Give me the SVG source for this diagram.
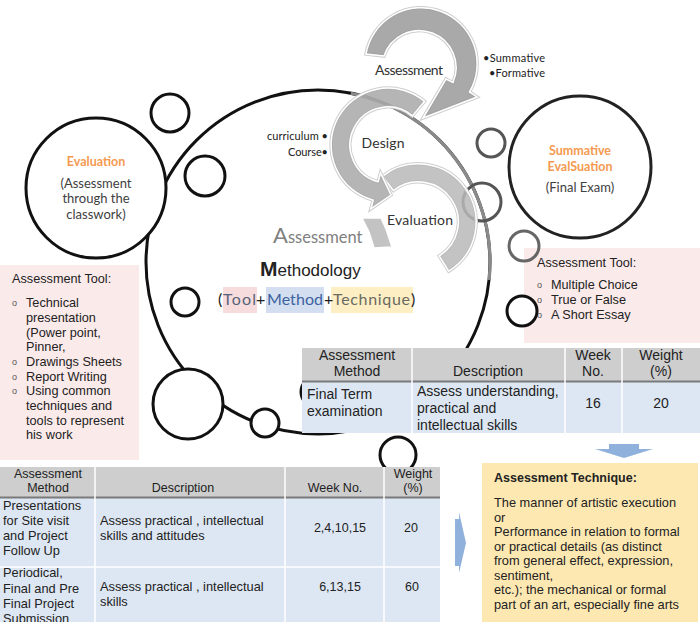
<svg xmlns="http://www.w3.org/2000/svg" width="700" height="627" viewBox="0 0 700 627">
<defs>
<style>
.ar{font-family:"Liberation Sans",Arial,sans-serif;fill:#222}
.cal{font-family:Lato,"Liberation Sans",sans-serif}
.ring{fill:#fff;stroke:#111;stroke-width:3}
.ringg{fill:none;stroke:#555;stroke-width:3}
.arrow{stroke:#fff;stroke-width:1.5;fill-opacity:0.85}
.halo{fill:none;stroke:#cfcfcf;stroke-width:3.5}
.bt{font-family:"Liberation Sans",Arial,sans-serif;font-size:12.7px;fill:#222}
.tt{font-family:"Liberation Sans",Arial,sans-serif;font-size:14px;fill:#222}
.bl{font-family:"Liberation Sans",Arial,sans-serif;font-size:9px;fill:#555}
.hd{fill:#cecece}
.bd{fill:#dde7f3}
.sep{stroke:#fff;stroke-width:1.5}
</style>
<clipPath id="clipB"><rect x="0" y="460" width="445" height="162"/></clipPath>
</defs>

<!-- background boxes -->
<g id="tool-left">
<rect x="0" y="265" width="139" height="195" fill="#fbeaea"/>
<text class="bt" x="12" y="283">Assessment Tool:</text>
<text class="bl" x="12" y="306">o</text>
<text class="bt" x="26" y="307">Technical</text>
<text class="bt" x="26" y="322">presentation</text>
<text class="bt" x="26" y="337">(Power point,</text>
<text class="bt" x="26" y="351">Pinner,</text>
<text class="bl" x="12" y="365">o</text>
<text class="bt" x="26" y="366">Drawings Sheets</text>
<text class="bl" x="12" y="380">o</text>
<text class="bt" x="26" y="381">Report Writing</text>
<text class="bl" x="12" y="394">o</text>
<text class="bt" x="26" y="395">Using common</text>
<text class="bt" x="26" y="410">techniques and</text>
<text class="bt" x="26" y="425">tools to represent</text>
<text class="bt" x="26" y="439">his work</text>
</g>

<g id="tool-right">
<rect x="524" y="248" width="176" height="95" fill="#fbeaea"/>
<text class="bt" x="537" y="267">Assessment Tool:</text>
<text class="bl" x="537" y="288">o</text>
<text class="bt" x="551" y="289">Multiple Choice</text>
<text class="bl" x="537" y="303">o</text>
<text class="bt" x="551" y="304">True or False</text>
<text class="bl" x="537" y="318">o</text>
<text class="bt" x="551" y="319">A Short Essay</text>
</g>

<g id="technique">
<rect x="482" y="463" width="216" height="159" fill="#fde8b2"/>
<text class="ar" x="494" y="482" font-size="12.5" font-weight="bold">Assessment Technique:</text>
<g class="ar" font-size="12.8">
<text x="494" y="507">The manner of artistic execution</text>
<text x="494" y="521.5">or</text>
<text x="494" y="536">Performance in relation to formal</text>
<text x="494" y="550.5">or practical details (as distinct</text>
<text x="494" y="565">from general effect, expression,</text>
<text x="494" y="579.5">sentiment,</text>
<text x="494" y="594">etc.); the mechanical or formal</text>
<text x="494" y="608.5">part of an art, especially fine arts</text>
</g>
</g>

<!-- main circle and small circles -->
<g id="connectors">
<circle cx="318" cy="262" r="172" fill="none" stroke="#111" stroke-width="3"/>
<path d="M350.8,93.2 A172 172 0 0 1 489.1,280" fill="none" stroke="#8a8a8a" stroke-width="3.2"/>
</g>

<g id="small-circles">
<circle class="ring" cx="170" cy="113" r="19"/>
<circle class="ring" cx="205" cy="176" r="20"/>
<circle class="ring" cx="185" cy="302" r="14"/>
<circle class="ring" cx="188" cy="404" r="35"/>
<circle class="ring" cx="265" cy="423" r="14"/>
<circle class="ring" cx="316" cy="392" r="15"/>
<circle class="ring" cx="398" cy="455" r="18"/>
<circle cx="491" cy="143" r="14" fill="#fff" stroke="#555" stroke-width="3"/>
<circle class="ringg" cx="482" cy="202" r="19"/>
<circle cx="524" cy="246" r="15" fill="none" stroke="#666" stroke-width="3"/>
<circle class="ring" cx="522" cy="311" r="15" fill="none"/>
</g>

<g id="evaluation">
<circle class="ring" cx="96" cy="188" r="70"/>
<text class="cal" x="96" y="166" text-anchor="middle" font-size="12.5" font-weight="bold" fill="#f59a50">Evaluation</text>
<g class="cal" font-size="13" fill="#404040" text-anchor="middle">
<text x="96" y="188">(Assessment</text>
<text x="96" y="203">through the</text>
<text x="96" y="219">classwork)</text>
</g>
</g>

<g id="summative">
<circle cx="580" cy="167" r="71" fill="#fff" stroke="#222" stroke-width="3"/>
<text class="cal" x="580" y="155" text-anchor="middle" font-size="12.5" font-weight="bold" fill="#f59a50">Summative</text>
<text class="cal" x="580" y="171" text-anchor="middle" font-size="12.5" font-weight="bold" fill="#f59a50">EvalSuation</text>
<text class="cal" x="580" y="192" text-anchor="middle" font-size="13" fill="#404040">(Final Exam)</text>
</g>

<!-- cycle arrows -->
<g id="arrow-evaluation">
<path class="halo" d="M382.3,176.3 A58 58 0 1 1 448.7,271.2 L439.2,255.9 A40 40 0 1 0 393.4,190.5 Z"/>
<path class="arrow" fill="#b8b8b8" d="M382.3,176.3 A58 58 0 1 1 448.7,271.2 L439.2,255.9 A40 40 0 1 0 393.4,190.5 Z"/>
<path class="arrow" fill="#b8b8b8" d="M362,218 L381,218 L386,229 L392,247 L374,248 L369,232 Z"/>
<text class="cal" x="420" y="225" text-anchor="middle" font-size="14" fill="#333" textLength="66">Evaluation</text>
</g>
<g id="arrow-design">
<path class="halo" d="M424.6,101.3 A57 57 0 1 0 373.2,200.1 L370.9,208.8 L391,195 L380.5,173 L378.2,181.7 A38 38 0 1 1 412.4,115.9 Z"/>
<path class="arrow" fill="#a8a8a8" d="M424.6,101.3 A57 57 0 1 0 373.2,200.1 L370.9,208.8 L391,195 L380.5,173 L378.2,181.7 A38 38 0 1 1 412.4,115.9 Z"/>
<text class="cal" x="383" y="148" text-anchor="middle" font-size="14" fill="#333" textLength="43">Design</text>
<text class="cal" x="328" y="140" text-anchor="end" font-size="11" fill="#222" textLength="61">curriculum •</text>
<text class="cal" x="328" y="156" text-anchor="end" font-size="11" fill="#222" textLength="40">Course•</text>
</g>
<g id="arrow-assessment">
<path class="halo" d="M366,54 A56 56 0 1 1 469.5,92 L477,97 L423,118 L446,79 L453,82.5 A37 37 0 1 0 384,56 Z"/>
<path class="arrow" fill="#9a9a9a" d="M366,54 A56 56 0 1 1 469.5,92 L477,97 L423,118 L446,79 L453,82.5 A37 37 0 1 0 384,56 Z"/>
<text class="cal" x="409" y="75" text-anchor="middle" font-size="14" fill="#333" textLength="68">Assessment</text>
<text class="cal" x="483" y="62" font-size="11" fill="#222" textLength="62">•Summative</text>
<text class="cal" x="489" y="77" font-size="11" fill="#222" textLength="56">•Formative</text>
</g>

<!-- center title -->
<g id="methodology">
<text class="cal" x="273" y="243" fill="#808080"><tspan font-size="22">A</tspan><tspan font-size="16.5">ssessment</tspan></text>
<text class="ar" x="260" y="276" fill="#111"><tspan font-size="21" font-weight="bold">M</tspan><tspan font-size="17">ethodology</tspan></text>
<rect x="223" y="287" width="34" height="26" fill="#f6dcdc"/>
<rect x="266" y="287" width="58" height="26" fill="#d3dff0"/>
<rect x="331" y="287" width="82" height="26" fill="#fdeec4"/>
<g class="cal" font-size="16">
<text x="218" y="305" fill="#222">(</text>
<text x="223" y="305" fill="#56637a" textLength="33">Tool</text>
<text x="256" y="305" fill="#222">+</text>
<text x="267" y="305" fill="#3d62a0" textLength="56">Method</text>
<text x="324" y="305" fill="#222">+</text>
<text x="333" y="305" fill="#6a6a60" textLength="77">Technique</text>
<text x="411" y="305" fill="#222">)</text>
</g>
</g>

<!-- final term table -->
<g id="table-final">
<rect class="hd" x="302" y="348" width="398" height="33"/>
<rect class="bd" x="302" y="382" width="398" height="51"/>
<line x1="302" y1="381.5" x2="700" y2="381.5" stroke="#7a7a7a" stroke-width="2"/>
<line class="sep" x1="412" y1="348" x2="412" y2="433"/>
<line class="sep" x1="565" y1="348" x2="565" y2="433"/>
<line class="sep" x1="622" y1="348" x2="622" y2="433"/>
<g class="tt" text-anchor="middle">
<text x="357" y="360">Assessment</text>
<text x="357" y="376">Method</text>
<text x="488" y="376">Description</text>
<text x="593" y="360">Week</text>
<text x="593" y="376">No.</text>
<text x="661" y="360">Weight</text>
<text x="661" y="376">(%)</text>
<text x="593" y="408">16</text>
<text x="661" y="408">20</text>
</g>
<g class="tt">
<text x="307" y="399">Final Term</text>
<text x="307" y="416">examination</text>
<text x="417" y="396">Assess understanding,</text>
<text x="417" y="413">practical and</text>
<text x="417" y="430">intellectual skills</text>
</g>
</g>

<!-- coursework table -->
<g id="table-coursework" clip-path="url(#clipB)">
<rect class="hd" x="0" y="467" width="440" height="30"/>
<rect class="bd" x="0" y="498" width="440" height="124"/>
<line x1="0" y1="497.5" x2="440" y2="497.5" stroke="#7a7a7a" stroke-width="2"/>
<line class="sep" x1="0" y1="567" x2="440" y2="567"/>
<line class="sep" x1="95" y1="467" x2="95" y2="622"/>
<line class="sep" x1="285" y1="467" x2="285" y2="622"/>
<line class="sep" x1="384" y1="467" x2="384" y2="622"/>
<g class="ar" font-size="12.5" text-anchor="middle">
<text x="48" y="478">Assessment</text>
<text x="48" y="492">Method</text>
<text x="183" y="492">Description</text>
<text x="335" y="492">Week No.</text>
<text x="413" y="478">Weight</text>
<text x="413" y="492">(%)</text>
<text x="340" y="532">2,4,10,15</text>
<text x="411" y="532">20</text>
<text x="340" y="591">6,13,15</text>
<text x="412" y="591">60</text>
</g>
<g class="ar" font-size="12.8">
<text x="3" y="510">Presentations</text>
<text x="3" y="525">for Site visit</text>
<text x="3" y="540">and Project</text>
<text x="3" y="555">Follow Up</text>
<text x="3" y="577">Periodical,</text>
<text x="3" y="593">Final and Pre</text>
<text x="3" y="608">Final Project</text>
<text x="3" y="623">Submission</text>
<text x="100" y="525">Assess practical , intellectual</text>
<text x="100" y="540">skills and attitudes</text>
<text x="100" y="591">Assess practical , intellectual</text>
<text x="100" y="606">skills</text>
</g>
</g>

<!-- flow arrows -->
<g id="flow-arrows" fill="#8fb1dc">
<polygon points="609,444 639,444 639,449 653,449 624,458 595,449 609,449"/>
<polygon points="455,519 459,519 459,512 466,543 459,573 459,566 455,566"/>
</g>
</svg>
